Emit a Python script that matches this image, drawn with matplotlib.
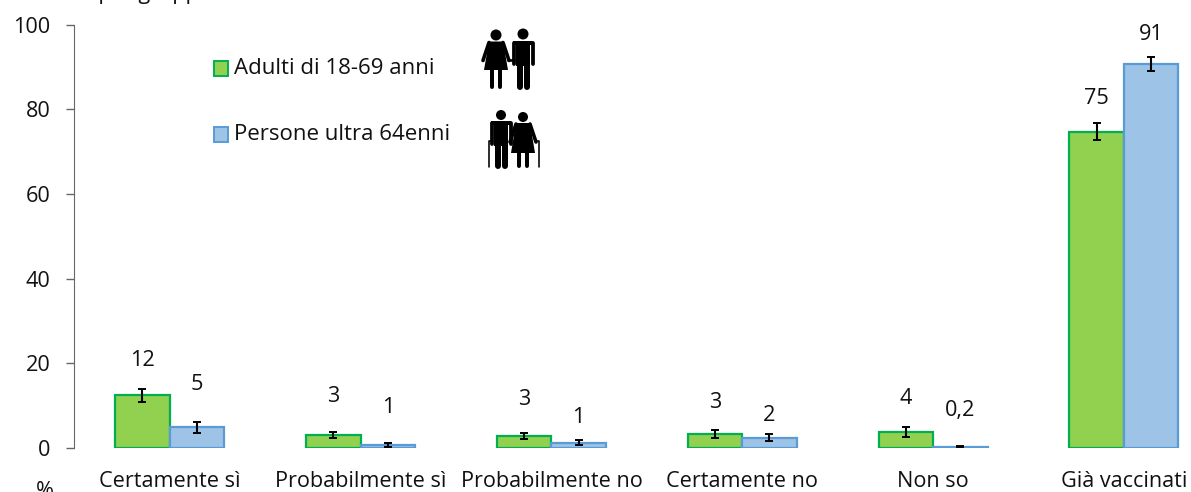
import numpy as np
import matplotlib
matplotlib.use("Agg")
import matplotlib.pyplot as plt
from matplotlib.patches import Rectangle, Circle, Polygon

# values
categories = ['Certamente sì', 'Probabilmente sì', 'Probabilmente no', 'Certamente no', 'Non so', 'Già vaccinati']
adulti = [12.4, 3.0, 2.8, 3.2, 3.7, 74.7]
anziani = [4.9, 0.7, 1.2, 2.4, 0.3, 90.7]
adulti_err = [1.6, 0.8, 0.8, 0.9, 1.1, 2.0]
anziani_err = [1.3, 0.4, 0.6, 0.9, 0.2, 1.6]
adulti_labels = ['12', '3', '3', '3', '4', '75']
anziani_labels = ['5', '1', '1', '2', '0,2', '91']
y_ticks = [0, 20, 40, 60, 80, 100]

# hand placed data labels, pixels above the bar top
adulti_shift = [35, 39, 36, 32, 34, 33]
anziani_shift = [43, 37, 25, 22, 36, 29]

W, H = 1191, 492
FS = 15.6
INK = '#111111'
GREEN, GREEN_EDGE = '#92D050', '#00B050'
BLUE, BLUE_EDGE = '#9DC3E6', '#5B9BD5'

plt.rcParams['font.family'] = ['Open Sans', 'DejaVu Sans']
fig = plt.figure(figsize=(W / 100, H / 100), dpi=100)

# the plot runs past the right edge of the image, as in the original crop
ax = fig.add_axes([74.3 / W, 1 - 447.8 / H, 1145 / W, 423.2 / H])
ax.patch.set_visible(False)
x = np.arange(len(categories))
width = 54.5 / 190.8

err_style = dict(elinewidth=1.5, capsize=3, capthick=1.4)
ax.bar(x - width / 2, adulti, width, color=GREEN, edgecolor=GREEN_EDGE, linewidth=1.6,
       yerr=adulti_err, ecolor='black', error_kw=err_style)
ax.bar(x + width / 2, anziani, width, color=BLUE, edgecolor=BLUE_EDGE, linewidth=1.6,
       yerr=anziani_err, ecolor='black', error_kw=err_style)

for i in range(len(categories)):
    ax.annotate(adulti_labels[i], (x[i] - width / 2, adulti[i]), xytext=(0, adulti_shift[i] * 0.72),
                textcoords='offset points', ha='center', va='center', fontsize=FS, color=INK)
    ax.annotate(anziani_labels[i], (x[i] + width / 2, anziani[i]), xytext=(0, anziani_shift[i] * 0.72),
                textcoords='offset points', ha='center', va='center', fontsize=FS, color=INK)

ax.set_xlim(-0.5, 5.5)
ax.set_ylim(0, 100)
ax.set_yticks(y_ticks)
ax.set_xticks(x)
ax.set_xticklabels(categories, fontsize=FS, color=INK)
ax.tick_params(axis='x', length=0, pad=17)
ax.tick_params(axis='y', length=6, width=1, color='#666666', labelsize=FS, labelcolor=INK, pad=11)
for s in ['top', 'right', 'bottom']:
    ax.spines[s].set_visible(False)
ax.spines['left'].set_color('#666666')

# legend written by hand to keep its position
tr = fig.transFigure
def px(a, b):
    return a / W, 1 - b / H

fig.add_artist(Rectangle(px(214, 76), 14 / W, 15 / H, transform=tr, fc=GREEN, ec=GREEN_EDGE, lw=1.4))
fig.add_artist(Rectangle(px(214, 142), 14 / W, 15 / H, transform=tr, fc=BLUE, ec=BLUE_EDGE, lw=1.4))
fig.text(*px(234, 69), 'Adulti di 18-69 anni', fontsize=16, va='center', color=INK)
fig.text(*px(234, 135), 'Persone ultra 64enni', fontsize=16, va='center', color=INK)

# texts cut by the image edges, as in the reference
fig.text(*px(35, -1), 'Valori per gruppo di età', fontsize=FS, va='baseline', color=INK)
fig.text(*px(45, 497), '%', fontsize=FS, va='baseline', ha='center', color=INK)

# pictograms, in image pixels
pic = fig.add_axes([0, 0, 1, 1])
pic.set_xlim(0, W)
pic.set_ylim(H, 0)
pic.axis('off')

def stroke(xs, ys, w):
    pic.plot(xs, ys, color='black', lw=w * 0.72, solid_capstyle='round')

def woman(cx, head_y, hem_y, foot_y, r=5.5):
    pic.add_patch(Circle((cx, head_y), r, fc='black', ec='none'))
    top = head_y + r + 1
    pic.add_patch(Polygon([(cx - 7, top), (cx + 7, top), (cx + 12, hem_y), (cx - 12, hem_y)], fc='black', ec='none'))
    stroke([cx - 7, cx - 13], [top + 1, top + 19], 3.6)
    stroke([cx + 7, cx + 13], [top + 1, top + 19], 3.6)
    stroke([cx - 4, cx - 4], [hem_y, foot_y], 4)
    stroke([cx + 4, cx + 4], [hem_y, foot_y], 4)

def man(cx, head_y, foot_y, r=5.5):
    pic.add_patch(Circle((cx, head_y), r, fc='black', ec='none'))
    top = head_y + r + 1
    pic.add_patch(Rectangle((cx - 10, top), 20, 4, fc='black', ec='none'))
    pic.add_patch(Rectangle((cx - 7, top), 14, 25, fc='black', ec='none'))
    stroke([cx - 9.5, cx - 9.5], [top + 2, top + 23], 3.8)
    stroke([cx + 9.5, cx + 9.5], [top + 2, top + 23], 3.8)
    stroke([cx - 3.5, cx - 3.5], [top + 22, foot_y], 6)
    stroke([cx + 3.5, cx + 3.5], [top + 22, foot_y], 6)

woman(496, 35, 70, 87)
man(523, 34, 87)
stroke([508, 514], [60, 60], 2.6)
man(501, 115, 166, r=5)
woman(523, 117, 153, 166, r=5)
stroke([489, 489, 492], [167, 141, 141], 1.6)
stroke([539, 539, 536], [167, 141, 141], 1.6)

fig.savefig('out.png', dpi=100)
